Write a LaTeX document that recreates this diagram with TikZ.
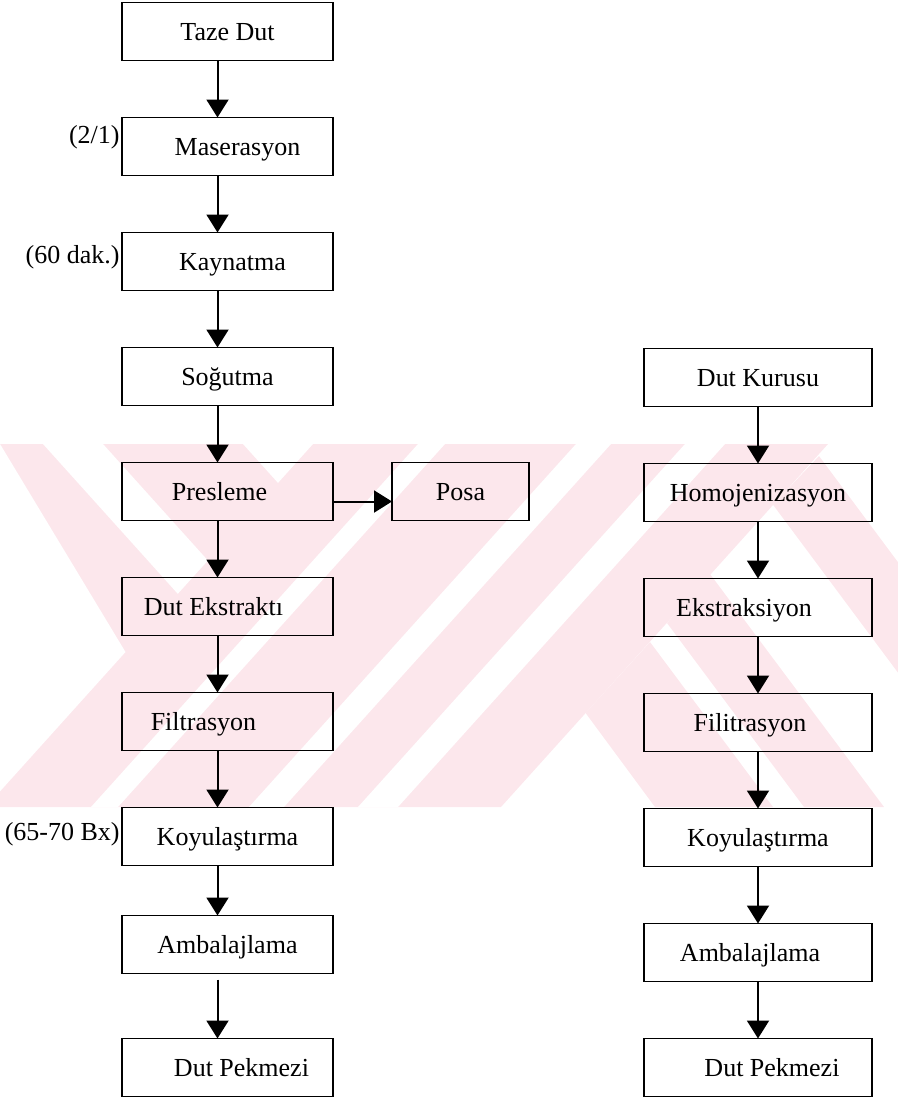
\documentclass[tikz,border=0pt]{standalone}
\usepackage{fontspec}
\setmainfont{Liberation Serif}
\usetikzlibrary{arrows.meta, positioning, backgrounds}

\definecolor{wmpink}{RGB}{252,231,236}

\begin{document}
\begin{tikzpicture}[
    x=0.5pt, y=-0.5pt,
    >={Triangle[length=9pt,width=11pt]},
    node distance=28.5pt,
    stepnode/.style={draw, line width=0.9pt, rectangle, outer sep=0pt,
        minimum width=105.5pt, minimum height=29pt, inner sep=2pt,
        text height=9.5pt, text depth=0.5pt,
        font=\fontsize{13}{15}\selectfont},
    widenode/.style={stepnode, minimum width=114pt},
    sidenote/.style={font=\fontsize{13}{15}\selectfont, inner sep=1pt},
    flowline/.style={->, line width=1pt}
]
\useasboundingbox (0,0) rectangle (898,1099);

% Fresh mulberry line
\node[stepnode] (taze) at (227.5,31.5) {Taze Dut};
\node[stepnode, below=of taze] (maser) {\hspace*{10pt}Maserasyon};
\node[stepnode, below=of maser] (kayn) {\hspace*{5pt}Kaynatma};
\node[stepnode, below=of kayn] (sogut) {Soğutma};
\node[stepnode, below=of sogut] (presl) {Presleme\hspace*{8pt}};
\node[stepnode, minimum width=68.5pt, right=29.5pt of presl] (posa) {Posa};
\node[stepnode, below=of presl] (ekstr) {Dut Ekstraktı\hspace*{14pt}};
\node[stepnode, below=of ekstr] (filt) {Filtrasyon\hspace*{24pt}};
\node[stepnode, below=of filt] (koyu) {Koyulaştırma};
\node[stepnode, below=25pt of koyu] (amb) {Ambalajlama};
\node[stepnode, below=32.5pt of amb] (pekmez) {\hspace*{14pt}Dut Pekmezi};

% Process conditions
\node[sidenote, left=0pt of maser.west, yshift=4.5pt] (oran) {(2/1)};
\node[sidenote, left=0pt of kayn.west, yshift=2pt] (sure) {(60 dak.)};
\node[sidenote, left=0pt of koyu.west, yshift=1pt] (brix) {(65-70 Bx)};

% Dried mulberry line
\node[widenode] (kuru) at (758,377.5) {Dut Kurusu};
\node[widenode, below=of kuru] (homo) {Homojenizasyon};
\node[widenode, below=of homo] (ekstr2) {Ekstraksiyon\hspace*{14pt}};
\node[widenode, below=of ekstr2] (filt2) {Filitrasyon\hspace*{8pt}};
\node[widenode, below=of filt2] (koyu2) {Koyulaştırma};
\node[widenode, below=of koyu2] (amb2) {Ambalajlama\hspace*{8pt}};
\node[widenode, below=of amb2] (pekmez2) {\hspace*{14pt}Dut Pekmezi};

% Paths
\draw[flowline] ([xshift=-5pt]taze.south) -- ([xshift=-5pt]maser.north);
\draw[flowline] ([xshift=-5pt]maser.south) -- ([xshift=-5pt]kayn.north);
\draw[flowline] ([xshift=-5pt]kayn.south) -- ([xshift=-5pt]sogut.north);
\draw[flowline] ([xshift=-5pt]sogut.south) -- ([xshift=-5pt]presl.north);
\draw[flowline] ([yshift=-5pt]presl.east) -- ([yshift=-5pt]posa.west);
\draw[flowline] ([xshift=-5pt]presl.south) -- ([xshift=-5pt]ekstr.north);
\draw[flowline] ([xshift=-5pt]ekstr.south) -- ([xshift=-5pt]filt.north);
\draw[flowline] ([xshift=-5pt]filt.south) -- ([xshift=-5pt]koyu.north);
\draw[flowline] ([xshift=-5pt]koyu.south) -- ([xshift=-5pt]amb.north);
\draw[flowline, shorten <=3pt] ([xshift=-5pt]amb.south) -- ([xshift=-5pt]pekmez.north);

\draw[flowline] (kuru) -- (homo);
\draw[flowline] (homo) -- (ekstr2);
\draw[flowline] (ekstr2) -- (filt2);
\draw[flowline] (filt2) -- (koyu2);
\draw[flowline] (koyu2) -- (amb2);
\draw[flowline] (amb2) -- (pekmez2);

% Watermark behind the chart
\begin{scope}[on background layer]
    \clip (0,444) rectangle (898,807);
    \fill[wmpink] (0,444) -- (828,444) -- (501,807) -- (0,807) -- cycle;
    \fill[white] (0,444) -- (125.5,652) -- (0,791.4) -- cycle;
    \fill[white] (43,444) -- (103,444) -- (207.9,560.5) -- (177.8,593.8) -- cycle;
    \fill[white] (243,444) -- (313,444) -- (278,482.9) -- cycle;
    \fill[white] (91,807) -- (118,807) -- (445,444) -- (418,444) -- cycle;
    \fill[white] (249,807) -- (284,807) -- (611,444) -- (576,444) -- cycle;
    \fill[white] (358,807) -- (398,807) -- (725,444) -- (685,444) -- cycle;
    \fill[wmpink] (585.6,713) -- (650,642) -- (773,807) -- (655,807) -- cycle;
    \fill[wmpink] (667,623) -- (710,574) -- (884,807) -- (804,807) -- cycle;
    \fill[wmpink] (773,504.7) -- (819,456) -- (1080,807) -- (998,807) -- cycle;
\end{scope}

\end{tikzpicture}
\end{document}
